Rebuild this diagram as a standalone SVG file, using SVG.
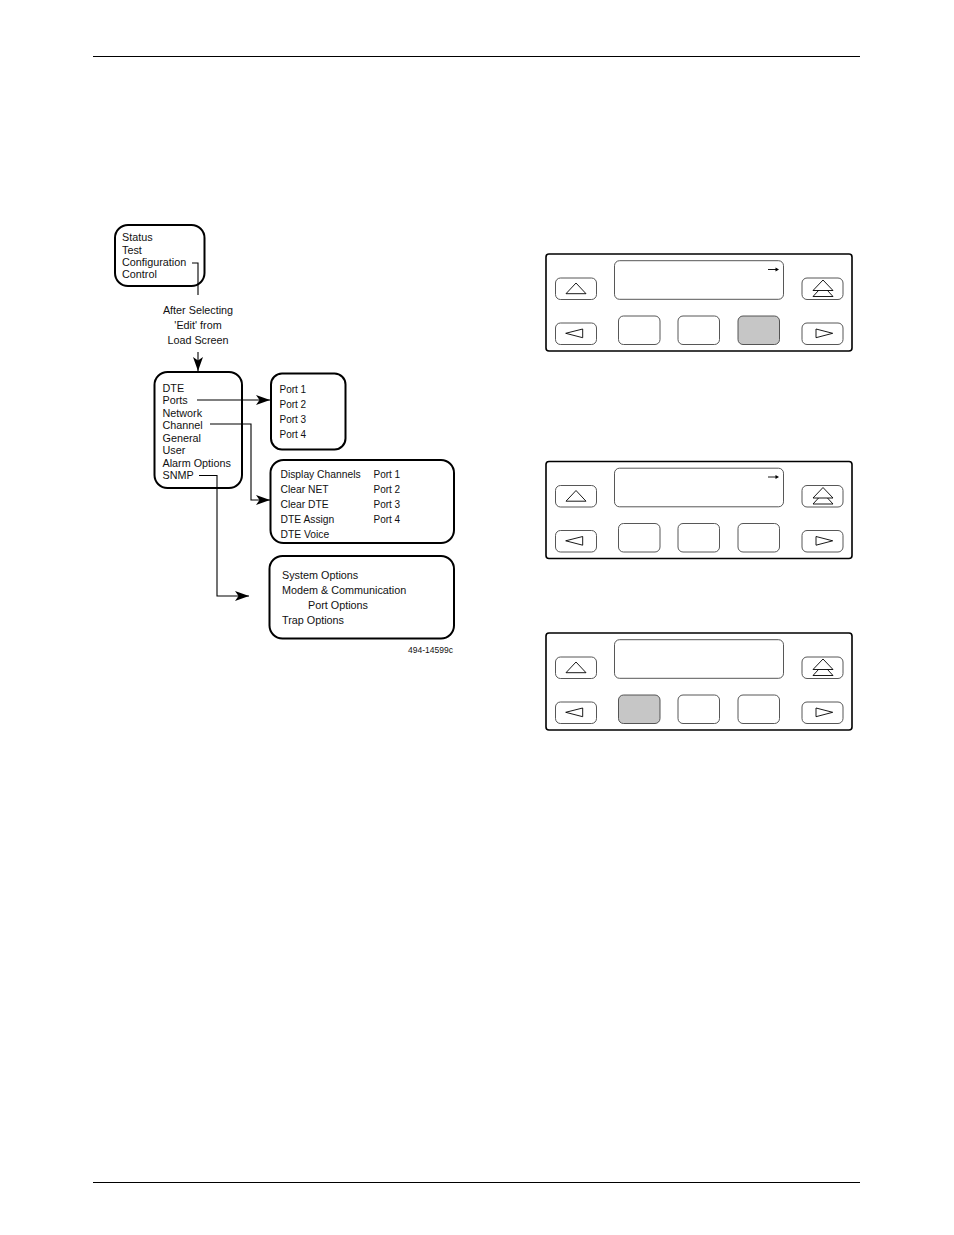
<svg xmlns="http://www.w3.org/2000/svg" width="954" height="1235" viewBox="0 0 954 1235">
<style>
text{font-family:"Liberation Sans",Arial,sans-serif;font-size:10.8px;fill:#111}
.n text,text.n{font-size:10.3px}
.p{font-size:10px}
.b{fill:#fff;stroke:#000;stroke-width:2}
.c{fill:none;stroke:#000;stroke-width:1.1}
.o{fill:#fff;stroke:#000;stroke-width:1.6}
.k{fill:#fff;stroke:#444;stroke-width:.9}
.g{fill:#c6c6c6;stroke:#444;stroke-width:.9}
.t{fill:none;stroke:#000;stroke-width:.9}
.r{stroke:#000;stroke-width:1}
</style>
<defs>
<marker id="a" markerUnits="userSpaceOnUse" markerWidth="15" markerHeight="12" refX="14" refY="5" orient="auto"><path d="M0 0L14 5L0 10L3.5 5Z" fill="#000"/></marker>
<g id="panel">
<rect class="o" x="546" y="254" width="306" height="97" rx="3"/>
<rect class="k" x="614.5" y="260.7" width="169" height="38.6" rx="5"/>
<rect class="k" x="555.5" y="278" width="41" height="21.5" rx="5"/>
<path class="t" d="M566 293.7L576 283L586 293.7Z"/>
<rect class="k" x="802" y="278" width="41" height="21.5" rx="5"/>
<path class="t" d="M813 290.5L823 280L833 290.5ZM813 296.5L818.5 290.5M833 296.5L827.5 290.5M813 296.5H833"/>
<rect class="k" x="555.5" y="323" width="41" height="21.5" rx="5"/>
<path class="t" d="M565.7 333.3L582.7 329V337.7Z"/>
<rect class="k" x="802" y="323" width="41" height="21.5" rx="5"/>
<path class="t" d="M832.7 333.3L816 329V337.7Z"/>
</g>
<g id="key"><rect x="0" y="0" width="41.5" height="28.5" rx="5"/></g>
<g id="cursor"><path class="t" d="M768 269.5H776"/><path d="M775.5 267.5L779 269.5L775.5 271.5Z" fill="#000"/></g>
</defs>

<g id="header-rule"><path class="r" d="M93 56.5H860"/></g>
<g id="footer-rule"><path class="r" d="M93 1182.5H860"/></g>

<g id="menu-top">
<rect class="b" x="115" y="225" width="89.5" height="61" rx="13"/>
<text x="122" y="241">Status</text><text x="122" y="253.5">Test</text><text x="122" y="266">Configuration</text><text x="122" y="278">Control</text>
</g>
<g id="menu-edit">
<rect class="b" x="154.5" y="372" width="87.5" height="116" rx="13"/>
<text x="162.5" y="391.5">DTE</text><text x="162.5" y="404">Ports</text><text x="162.5" y="416.5">Network</text><text x="162.5" y="429">Channel</text><text x="162.5" y="441.5">General</text><text x="162.5" y="454">User</text><text x="162.5" y="466.5">Alarm Options</text><text x="162.5" y="479">SNMP</text>
</g>
<g id="menu-ports">
<rect class="b" x="271" y="373.5" width="74.5" height="76" rx="11"/>
<text class="p" x="279.5" y="393">Port 1</text><text class="p" x="279.5" y="408">Port 2</text><text class="p" x="279.5" y="423">Port 3</text><text class="p" x="279.5" y="438">Port 4</text>
</g>
<g id="menu-channel">
<rect class="b" x="270.5" y="460" width="183.5" height="83" rx="13"/>
<text class="n" x="280.5" y="477.5">Display Channels</text><text class="n" x="280.5" y="492.5">Clear NET</text><text class="n" x="280.5" y="507.5">Clear DTE</text><text class="n" x="280.5" y="522.5">DTE Assign</text><text class="n" x="280.5" y="537.5">DTE Voice</text>
<text class="p" x="373.5" y="477.5">Port 1</text><text class="p" x="373.5" y="492.5">Port 2</text><text class="p" x="373.5" y="507.5">Port 3</text><text class="p" x="373.5" y="522.5">Port 4</text>
</g>
<g id="menu-snmp">
<rect class="b" x="269.5" y="556" width="184.5" height="82.5" rx="13"/>
<text x="282" y="579">System Options</text><text x="282" y="594">Modem &amp; Communication</text><text x="308" y="609">Port Options</text><text x="282" y="624">Trap Options</text>
</g>
<g id="edit-label" text-anchor="middle">
<text x="198" y="314">After Selecting</text><text x="198" y="329">'Edit' from</text><text x="198" y="344">Load Screen</text>
</g>
<g id="figure-number"><text x="408" y="653" style="font-size:8.5px">494-14599c</text></g>

<g id="connectors">
<path class="c" d="M192 263H198V295"/>
<path class="c" d="M198 352V371" marker-end="url(#a)"/>
<path class="c" d="M197 400H270" marker-end="url(#a)"/>
<path class="c" d="M210 424H251V500H270" marker-end="url(#a)"/>
<path class="c" d="M199 475.5H217V596H249" marker-end="url(#a)"/>
</g>

<g id="panel-1">
<use href="#panel"/>
<use href="#key" class="k" x="618.5" y="316"/><use href="#key" class="k" x="678" y="316"/><use href="#key" class="g" x="738" y="316"/>
<use href="#cursor"/>
</g>
<g id="panel-2" transform="translate(0 207.5)">
<use href="#panel"/>
<use href="#key" class="k" x="618.5" y="316"/><use href="#key" class="k" x="678" y="316"/><use href="#key" class="k" x="738" y="316"/>
<use href="#cursor"/>
</g>
<g id="panel-3" transform="translate(0 379)">
<use href="#panel"/>
<use href="#key" class="g" x="618.5" y="316"/><use href="#key" class="k" x="678" y="316"/><use href="#key" class="k" x="738" y="316"/>
</g>
</svg>
